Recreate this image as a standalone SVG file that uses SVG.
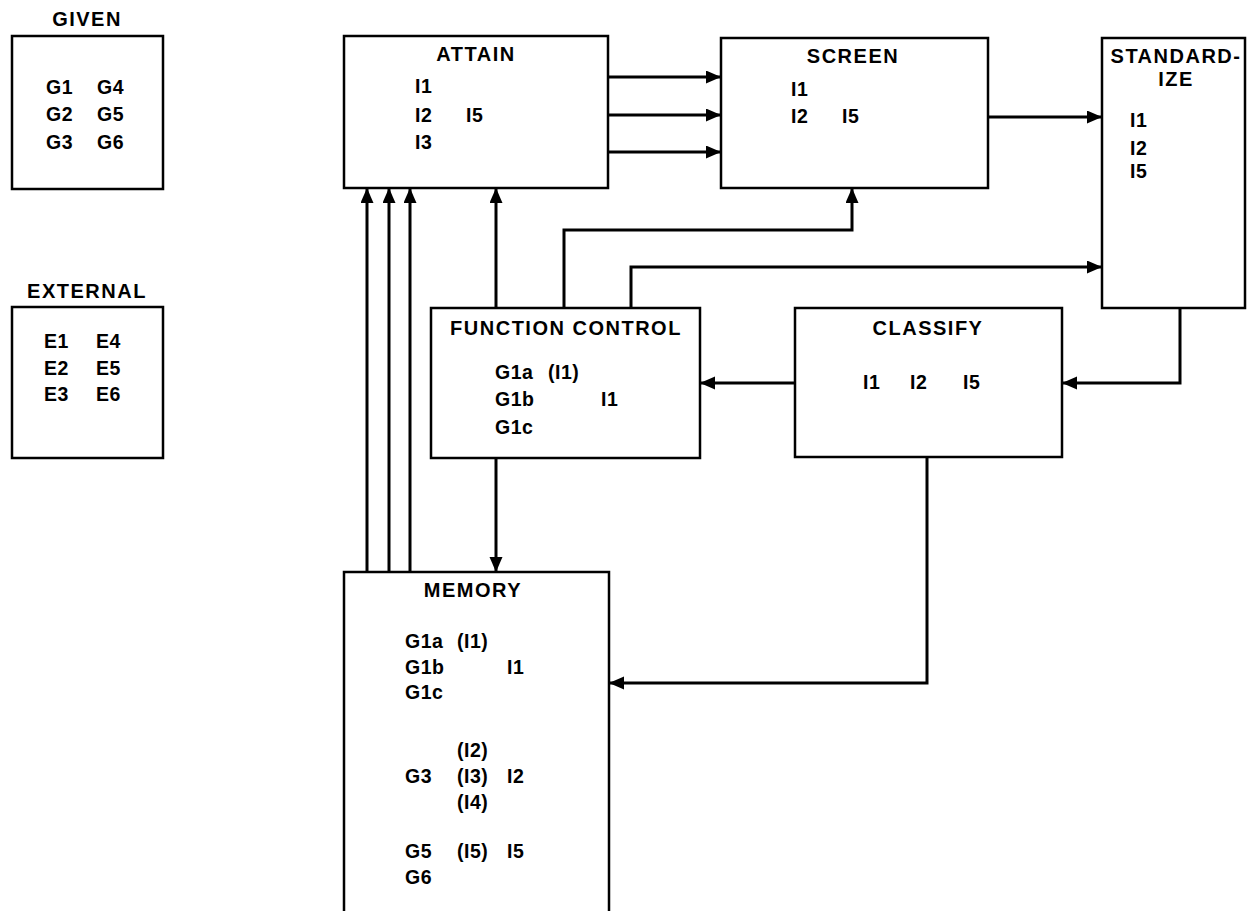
<svg xmlns="http://www.w3.org/2000/svg" width="1251" height="911" viewBox="0 0 1251 911">
<style>
.box{fill:#fff;stroke:#000;stroke-width:2.5}
.t{font-family:"Liberation Sans",Arial,sans-serif;font-weight:bold;font-size:20px;letter-spacing:1.5px;fill:#000}
.h{text-anchor:middle}
.b{font-family:"Liberation Sans",Arial,sans-serif;font-weight:bold;font-size:19.5px;letter-spacing:0.5px;fill:#000}
.c{fill:none;stroke:#000;stroke-width:3;marker-end:url(#ah)}
</style>
<defs>
<marker id="ah" markerUnits="userSpaceOnUse" markerWidth="16" markerHeight="14" refX="15" refY="6.5" orient="auto">
<path d="M0,0 L15,6.5 L0,13 z" fill="#000"/>
</marker>
</defs>
<rect width="1251" height="911" fill="#fff"/>
<g id="given">
<text class="t h" x="87" y="26">GIVEN</text>
<rect class="box" x="12" y="36" width="151" height="153"/>
<text class="b" x="46" y="94">G1</text><text class="b" x="97" y="94">G4</text>
<text class="b" x="46" y="121">G2</text><text class="b" x="97" y="121">G5</text>
<text class="b" x="46" y="149">G3</text><text class="b" x="97" y="149">G6</text>
</g>
<g id="external">
<text class="t h" x="87" y="298">EXTERNAL</text>
<rect class="box" x="12" y="307" width="151" height="151"/>
<text class="b" x="44" y="348">E1</text><text class="b" x="96" y="348">E4</text>
<text class="b" x="44" y="375">E2</text><text class="b" x="96" y="375">E5</text>
<text class="b" x="44" y="401">E3</text><text class="b" x="96" y="401">E6</text>
</g>
<g id="attain">
<rect class="box" x="344" y="36" width="264" height="152"/>
<text class="t h" x="476" y="61">ATTAIN</text>
<text class="b" x="415" y="93">I1</text>
<text class="b" x="415" y="122">I2</text><text class="b" x="466" y="122">I5</text>
<text class="b" x="415" y="149">I3</text>
</g>
<g id="screen">
<rect class="box" x="721" y="38" width="267" height="150"/>
<text class="t h" x="853" y="63">SCREEN</text>
<text class="b" x="791" y="96">I1</text>
<text class="b" x="791" y="123">I2</text><text class="b" x="842" y="123">I5</text>
</g>
<g id="standardize">
<rect class="box" x="1102" y="38" width="143" height="270"/>
<text class="t h" x="1176" y="63">STANDARD-</text>
<text class="t h" x="1176" y="86">IZE</text>
<text class="b" x="1130" y="127">I1</text>
<text class="b" x="1130" y="155">I2</text>
<text class="b" x="1130" y="178">I5</text>
</g>
<g id="function-control">
<rect class="box" x="431" y="308" width="269" height="150"/>
<text class="t h" x="566" y="335">FUNCTION CONTROL</text>
<text class="b" x="495" y="379">G1a</text><text class="b" x="548" y="379">(I1)</text>
<text class="b" x="495" y="406">G1b</text><text class="b" x="601" y="406">I1</text>
<text class="b" x="495" y="434">G1c</text>
</g>
<g id="classify">
<rect class="box" x="795" y="308" width="267" height="149"/>
<text class="t h" x="928" y="335">CLASSIFY</text>
<text class="b" x="863" y="389">I1</text>
<text class="b" x="910" y="389">I2</text>
<text class="b" x="963" y="389">I5</text>
</g>
<g id="memory">
<rect class="box" x="344" y="572" width="265" height="350"/>
<text class="t h" x="473" y="597">MEMORY</text>
<text class="b" x="405" y="648">G1a</text><text class="b" x="457" y="648">(I1)</text>
<text class="b" x="405" y="674">G1b</text><text class="b" x="507" y="674">I1</text>
<text class="b" x="405" y="699">G1c</text>
<text class="b" x="457" y="757">(I2)</text>
<text class="b" x="405" y="783">G3</text><text class="b" x="457" y="783">(I3)</text><text class="b" x="507" y="783">I2</text>
<text class="b" x="457" y="809">(I4)</text>
<text class="b" x="405" y="858">G5</text><text class="b" x="457" y="858">(I5)</text><text class="b" x="507" y="858">I5</text>
<text class="b" x="405" y="884">G6</text>
</g>
<g id="connectors">
<path class="c" d="M609,77 H721"/>
<path class="c" d="M609,115 H721"/>
<path class="c" d="M609,152 H721"/>
<path class="c" d="M989,117 H1102"/>
<path class="c" d="M496,308 V188"/>
<path class="c" d="M564,308 V230 H852 V188"/>
<path class="c" d="M631,308 V267 H1102"/>
<path class="c" d="M1180,308 V383 H1062"/>
<path class="c" d="M795,383 H700"/>
<path class="c" d="M496,458 V572"/>
<path class="c" d="M927,457 V683 H609"/>
<path class="c" d="M367,572 V188"/>
<path class="c" d="M389,572 V188"/>
<path class="c" d="M410,572 V188"/>
</g>
</svg>
